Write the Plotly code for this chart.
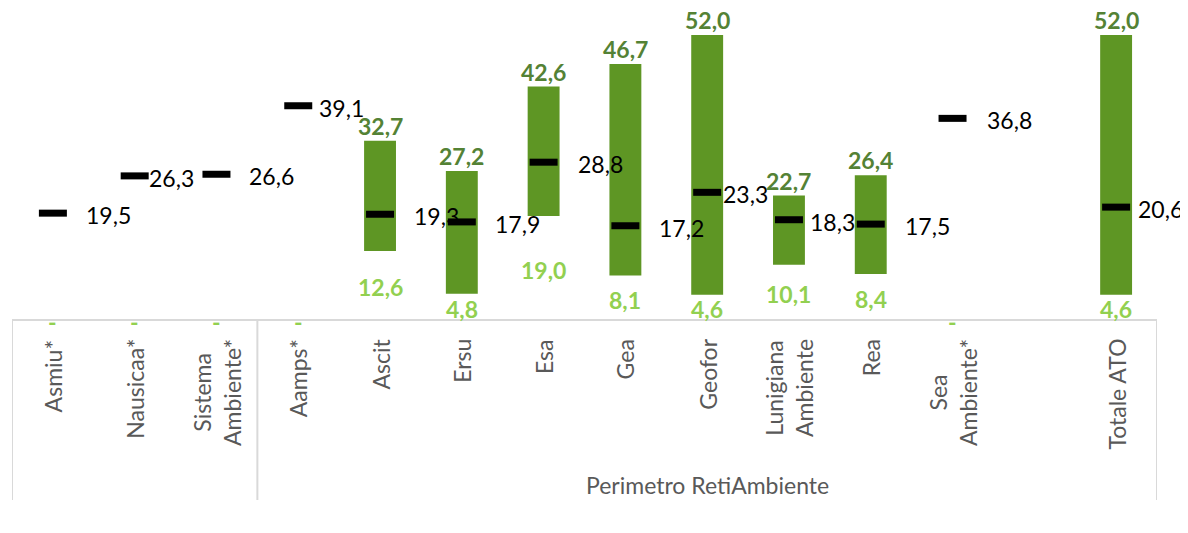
import plotly.graph_objects as go

# ---- data ----
categories = ["Asmiu*", "Nausicaa*", "Sistema<br>Ambiente*", "Aamps*", "Ascit", "Ersu", "Esa",
              "Gea", "Geofor", "Lunigiana<br>Ambiente", "Rea", "Sea<br>Ambiente*", "Totale ATO"]
min_vals = [0, 0, 0, 0, 12.6, 4.8, 19.0, 8.1, 4.6, 10.1, 8.4, 0, 4.6]
max_vals = [None, None, None, None, 32.7, 27.2, 42.6, 46.7, 52.0, 22.7, 26.4, None, 52.0]
avg_vals = [19.5, 26.3, 26.6, 39.1, 19.3, 17.9, 28.8, 17.2, 23.3, 18.3, 17.5, 36.8, 20.6]
group_label = "Perimetro RetiAmbiente"

# ---- style ----
FONT = "Lato"
BAR_COLOR = "#5E9624"
MAX_COLOR = "#548235"
MIN_COLOR = "#92D050"
TICK_COLOR = "#595959"
LINE_COLOR = "#D9D9D9"
avg_label_gap = [19, 0, 19, 7, 20, 19, 20, 20, 2, 7, 20, 20, 8]  # px gap right of dash

PLOT_H = 312  # px height of plot area
Y_MAX = 56.94


def fmt(v):
    return f"{v:.1f}".replace(".", ",")


def py(px_below_axis):
    """paper y for a distance in px below the x axis line"""
    return -px_below_axis / PLOT_H


# slot positions: one empty slot before the total
xpos = list(range(len(categories) - 1)) + [len(categories)]

bar_x = [x for x, m in zip(xpos, max_vals) if m is not None]
bar_base = [lo for lo, m in zip(min_vals, max_vals) if m is not None]
bar_len = [m - lo for lo, m in zip(min_vals, max_vals) if m is not None]

fig = go.Figure()
fig.add_trace(go.Bar(x=bar_x, y=bar_len, base=bar_base, width=0.39,
                     marker=dict(color=BAR_COLOR, line=dict(width=0)),
                     hoverinfo="skip", showlegend=False))
fig.add_trace(go.Scatter(x=xpos, y=avg_vals, mode="markers",
                         marker=dict(symbol="line-ew", size=20,
                                     line=dict(width=7, color="black")),
                         hoverinfo="skip", showlegend=False))

ann = []
for x, lo, hi, av, gap in zip(xpos, min_vals, max_vals, avg_vals, avg_label_gap):
    if hi is not None:
        ann.append(dict(x=x, y=hi, xref="x", yref="y", text=fmt(hi), showarrow=False,
                        xanchor="center", yanchor="bottom", yshift=0, borderpad=0,
                        font=dict(family=FONT, size=23, color=MAX_COLOR, weight="bold")))
    ann.append(dict(x=x, y=lo / 2, xref="x", yref="y", text=fmt(lo) if lo else "-",
                    showarrow=False, xanchor="center", yanchor="middle", yshift=-2,
                    font=dict(family=FONT, size=23, color=MIN_COLOR, weight="bold")))
    ann.append(dict(x=x, y=av, xref="x", yref="y", text=fmt(av), showarrow=False,
                    xanchor="left", yanchor="middle", xshift=14 + gap - 2, yshift=-2,
                    font=dict(family=FONT, size=23, color="black")))

for x, c in zip(xpos, categories):
    ann.append(dict(x=x, y=py(17), xref="x", yref="paper", text=c, showarrow=False,
                    textangle=-90, xanchor="center", yanchor="top", align="center",
                    font=dict(family=FONT, size=23, color=TICK_COLOR)))
ann.append(dict(x=(2.5 + 13.5) / 2, y=py(165), xref="x", yref="paper", text=group_label,
                showarrow=False, xanchor="center", yanchor="middle",
                font=dict(family=FONT, size=23, color=TICK_COLOR)))

shapes = [
    dict(type="line", xref="x", yref="paper", x0=-0.5, x1=13.5, y0=0, y1=0,
         line=dict(color=LINE_COLOR, width=2)),
]
for xv in (-0.5, 2.5, 13.5):
    shapes.append(dict(type="line", xref="x", yref="paper", x0=xv, x1=xv, y0=0, y1=py(180),
                       line=dict(color=LINE_COLOR, width=2)))

fig.update_layout(
    width=1180, height=525,
    margin=dict(l=4, r=31, t=0, b=213),
    plot_bgcolor="white", paper_bgcolor="white",
    xaxis=dict(range=[-0.5, 13.5], visible=False, fixedrange=True),
    yaxis=dict(range=[0, Y_MAX], visible=False, fixedrange=True),
    annotations=ann, shapes=shapes,
    font=dict(family=FONT),
    barmode="overlay",
)
fig.write_html("out.html")
